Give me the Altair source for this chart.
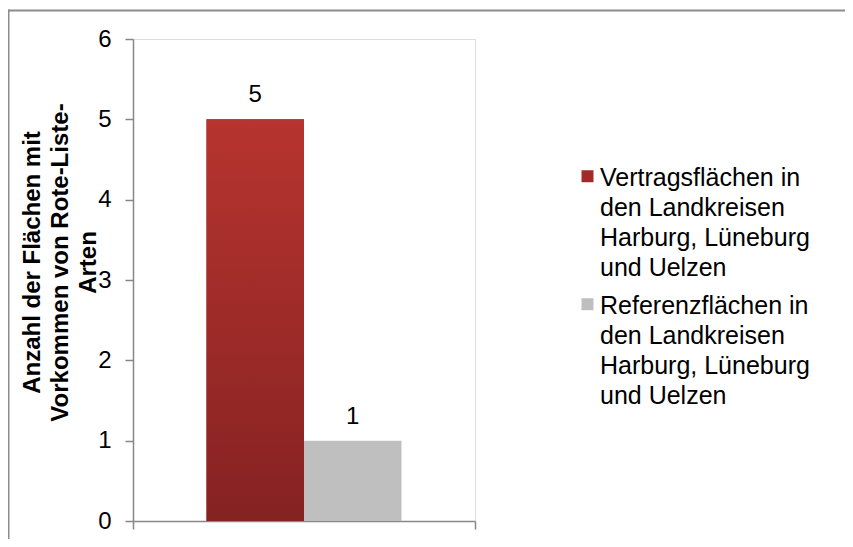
import altair as alt
import pandas as pd

# ---- data ----
category = ["Flächen"]
series = [
    "Vertragsflächen in den Landkreisen Harburg, Lüneburg und Uelzen",
    "Referenzflächen in den Landkreisen Harburg, Lüneburg und Uelzen",
]
values = [5, 1]
legend_lines = [
    ["Vertragsflächen in", "den Landkreisen", "Harburg, Lüneburg", "und Uelzen"],
    ["Referenzflächen in", "den Landkreisen", "Harburg, Lüneburg", "und Uelzen"],
]
colors = ["#A22B29", "#BFBFBF"]
y_title = ["Anzahl der Flächen mit", "Vorkommen  von Rote-Liste-", "Arten"]
y_ticks = [0, 1, 2, 3, 4, 5, 6]

df = pd.DataFrame({"kategorie": category * len(series), "serie": series, "wert": values})

FONT = "Liberation Sans"
AXIS_GREY = "#878787"


def js_arr(lines):
    return "[" + ",".join("'" + s + "'" for s in lines) + "]"


label_expr = f"datum.label == '{series[0]}' ? {js_arr(legend_lines[0])} : {js_arr(legend_lines[1])}"

x_enc = alt.X(
    "kategorie:N",
    scale=alt.Scale(paddingInner=0, paddingOuter=0),
    axis=alt.Axis(
        labels=False, title=None, ticks=True, tickBand="extent", tickSize=8,
        domainColor=AXIS_GREY, tickColor=AXIS_GREY, domainWidth=1.5, tickWidth=1.5,
    ),
)
xoff_enc = alt.XOffset(
    "serie:N", sort=series,
    scale=alt.Scale(domain=series, paddingInner=0, paddingOuter=0.754),
)
y_enc = alt.Y(
    "wert:Q",
    scale=alt.Scale(domain=[0, 6], nice=False),
    axis=alt.Axis(
        values=y_ticks, format="d", grid=False,
        title=y_title, titleFont=FONT, titleFontSize=24, titleFontWeight="bold",
        titleLineHeight=28, titleAngle=270, titleAlign="center", titleBaseline="top",
        titleX=-113, titleY=223, titleColor="#000000",
        labelFont=FONT, labelFontSize=24, labelColor="#000000", labelPadding=14,
        tickSize=8, domainColor=AXIS_GREY, tickColor=AXIS_GREY, domainWidth=1.5, tickWidth=1.5,
    ),
)

base = alt.Chart(df)

bars = base.mark_bar().encode(
    x=x_enc,
    xOffset=xoff_enc,
    y=y_enc,
    color=alt.Color(
        "serie:N",
        sort=series,
        scale=alt.Scale(domain=series, range=colors),
        legend=alt.Legend(
            orient="none", legendX=442, legendY=114, title=None,
            labelExpr=label_expr, labelFont=FONT, labelFontSize=25, labelColor="#000000",
            labelBaseline="top", labelLimit=600, labelOffset=0,
            symbolType="M-1,0.79H1V2.79H-1Z", symbolSize=144, symbolStrokeWidth=0,
            symbolOpacity=1, rowPadding=-17, padding=0,
        ),
    ),
)

red_gradient = alt.Gradient(
    gradient="linear",
    stops=[
        alt.GradientStop(color="#B7342F", offset=0),
        alt.GradientStop(color="#852222", offset=1),
    ],
    x1=0, x2=0, y1=0, y2=1,
)

red_overlay = base.transform_filter(
    alt.datum.serie == series[0]
).mark_bar(color=red_gradient).encode(x=x_enc, xOffset=xoff_enc, y=y_enc)

labels = base.mark_text(
    font=FONT, fontSize=24, color="#000000", baseline="alphabetic", dy=-17
).encode(x=x_enc, xOffset=xoff_enc, y=y_enc, text=alt.Text("wert:Q", format="d"))

frame_data = alt.Data(values=[{"f": 1}])
frame_top = alt.Chart(frame_data).mark_rule(color="#8c8c8c", strokeWidth=2).encode(
    x=alt.value(-125), x2=alt.value(730), y=alt.value(-28.5)
)
frame_left = alt.Chart(frame_data).mark_rule(color="#8c8c8c", strokeWidth=2).encode(
    x=alt.value(-124.5), y=alt.value(-29.5), y2=alt.value(520)
)

chart = alt.layer(bars, red_overlay, labels, frame_top, frame_left).properties(
    width=342,
    height=482,
    autosize=alt.AutoSizeParams(type="none"),
    padding={"left": 125, "top": 31, "right": 370, "bottom": 18},
    background="white",
).configure_view(stroke="transparent").configure(
    style={"guide-label": {"lineHeight": 30}}
)

chart.save("out.html", embed_options={"renderer": "svg", "actions": False})
